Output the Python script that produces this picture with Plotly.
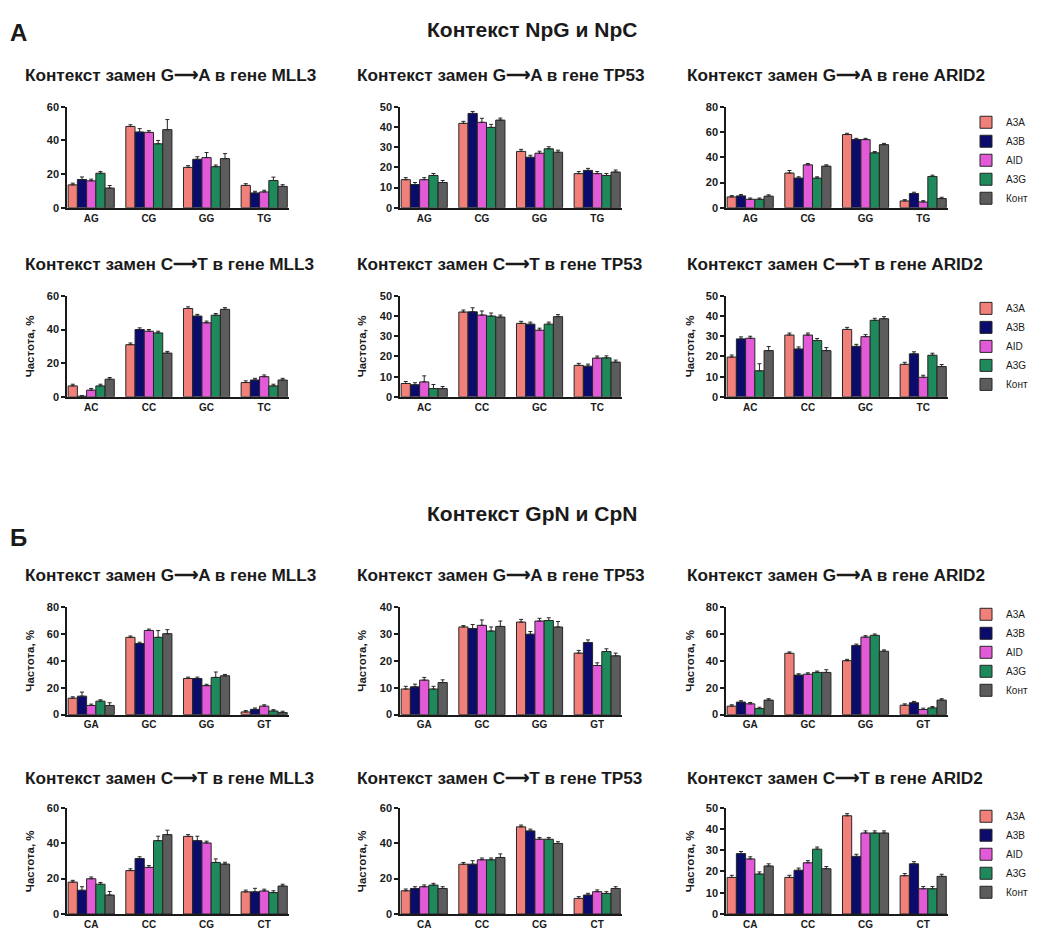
import plotly.graph_objects as go

PAGE_W, PAGE_H = 1043, 938
BODY = 8  # default page margin around the plot div
W, H = PAGE_W - 2 * BODY, PAGE_H - 2 * BODY
# empirical vertical calibration (rendered = V_SCALE * set + V_OFF)
V_SCALE, V_OFF = 0.986, 5.4

SERIES = ["A3A", "A3B", "AID", "A3G", "Конт"]
COLORS = ["#F2807A", "#0B0B6B", "#E35AD8", "#1E8A5C", "#5C5C5C"]

CATS_NPG = ["AG", "CG", "GG", "TG"]
CATS_NPC = ["AC", "CC", "GC", "TC"]
CATS_GPN = ["GA", "GC", "GG", "GT"]
CATS_CPN = ["CA", "CC", "CG", "CT"]

# one list per series (A3A, A3B, AID, A3G, Конт), values across the categories
MLL3_GA_NPG = [[13.6, 48.3, 24.0, 13.3], [16.8, 45.0, 28.8, 8.8], [16.0, 44.8, 29.8, 9.4],
               [20.5, 38.0, 24.4, 16.2], [11.7, 46.4, 29.2, 12.7]]
MLL3_GA_NPG_ERR = [[1, 1, 1, 1], [1.5, 2, 1.5, 1], [1, 1, 3, 1], [1, 2, 1, 2], [1.5, 6, 3, 1]]

TP53_GA_NPG = [[13.9, 41.8, 27.9, 16.9], [11.5, 46.7, 25.0, 18.5], [13.9, 42.3, 27.0, 16.9],
               [16.0, 39.8, 29.2, 16.0], [12.5, 43.4, 27.5, 17.7]]
TP53_GA_NPG_ERR = [[1, 1, 1, 1], [1, 1, 1, 1], [1, 2, 1, 1], [1, 1.5, 1, 1], [1, 1, 1, 1]]

ARID2_GA_NPG = [[8.6, 27.5, 58.0, 5.4], [9.4, 23.5, 54.0, 11.3], [6.7, 34.0, 54.0, 4.6],
                [6.7, 23.5, 43.5, 24.8], [9.2, 33.0, 50.0, 7.3]]
ARID2_GA_NPG_ERR = [[1, 2, 1, 1], [1, 1, 1, 1], [1, 1, 1, 1], [1, 1, 1, 1], [1, 1, 1, 1]]

MLL3_CT_NPC = [[6.5, 31.0, 52.5, 8.5], [0.4, 40.0, 48.0, 10.0], [4.0, 39.0, 44.0, 12.0],
               [6.5, 38.0, 48.5, 6.5], [10.5, 26.0, 52.0, 10.0]]
MLL3_CT_NPC_ERR = [[1, 1, 1, 1], [0.3, 1, 1, 1], [1, 1, 1, 1], [1, 1, 1, 1], [1, 1, 1, 1]]

TP53_CT_NPC = [[6.6, 42.0, 36.4, 15.6], [6.0, 42.1, 36.0, 15.2], [7.4, 40.5, 33.0, 19.2],
               [4.1, 40.0, 36.0, 19.3], [4.1, 39.5, 39.7, 17.2]]
TP53_CT_NPC_ERR = [[1, 1, 1, 1], [1, 2, 1, 1], [3, 2, 1, 1], [2, 1.5, 1, 1], [1, 1, 1, 1]]

ARID2_CT_NPC = [[19.7, 30.6, 33.4, 16.1], [28.7, 23.7, 25.0, 21.3], [29.0, 30.6, 29.8, 9.7],
                [12.9, 27.9, 37.9, 20.6], [22.9, 22.9, 38.7, 15.0]]
ARID2_CT_NPC_ERR = [[1, 1, 1, 1], [1, 1, 1, 1], [1, 1, 1, 1], [3.5, 1, 1, 1], [2, 1.5, 1, 1]]

MLL3_GA_GPN = [[12.2, 57.3, 26.8, 2.0], [13.7, 52.7, 26.8, 3.9], [6.8, 62.4, 21.5, 6.3],
               [10.0, 57.3, 27.6, 2.7], [6.8, 60.0, 28.8, 1.5]]
MLL3_GA_GPN_ERR = [[1, 1, 1, 1], [3, 1, 1, 1], [1, 1, 1, 1], [1, 5, 4, 1], [2, 3, 1, 1]]

TP53_GA_GPN = [[9.5, 32.5, 34.3, 22.8], [10.3, 31.9, 29.8, 26.7], [12.8, 33.1, 34.7, 18.2],
               [9.5, 31.0, 34.9, 23.4], [11.9, 32.7, 32.5, 21.8]]
TP53_GA_GPN_ERR = [[1, 0.5, 1, 1], [1, 1.5, 1, 1], [1, 2, 1, 1], [1, 1.5, 1, 1], [1, 2, 2, 1]]

ARID2_GA_GPN = [[6.3, 45.5, 40.0, 7.0], [9.3, 29.3, 51.3, 8.8], [8.0, 30.0, 57.5, 3.8],
                [4.5, 31.3, 58.8, 5.0], [10.8, 31.3, 47.0, 10.8]]
ARID2_GA_GPN_ERR = [[1, 1, 1, 1], [1, 1, 1, 1], [1, 1, 1, 1], [1, 1, 1, 1], [1, 2, 1, 1]]

MLL3_CT_CPN = [[18.0, 24.5, 43.8, 12.5], [13.4, 31.3, 41.4, 12.5], [19.9, 26.3, 40.1, 13.0],
               [16.8, 41.4, 29.1, 12.1], [10.7, 44.8, 28.2, 15.8]]
MLL3_CT_CPN_ERR = [[1, 1, 1, 1], [2, 1, 2.5, 2], [1, 1, 1, 1], [1, 2.5, 2, 1], [2, 2.5, 1, 1]]

TP53_CT_CPN = [[13.1, 28.1, 49.2, 8.8], [14.4, 28.1, 46.9, 10.7], [15.4, 30.6, 42.2, 12.6],
               [16.3, 30.6, 42.2, 11.6], [14.4, 31.9, 39.8, 14.4]]
TP53_CT_CPN_ERR = [[1, 1, 1, 1], [1, 2, 1, 1], [1, 1, 1, 1], [1, 1, 1, 1], [1, 2, 1, 1]]

ARID2_CT_CPN = [[17.2, 17.2, 46.2, 18.0], [28.4, 20.6, 27.1, 23.6], [25.9, 24.1, 38.1, 11.9],
                [18.8, 30.5, 38.1, 11.9], [22.6, 21.3, 38.1, 17.7]]
ARID2_CT_CPN_ERR = [[1, 1, 1, 1], [1, 1, 1, 1], [1, 1, 1, 1], [1, 1, 1, 1], [1, 1, 1, 1]]

TITLE_GA = "Контекст замен G⟶A в гене "
TITLE_CT = "Контекст замен C⟶T в гене "

# panels: (row, col, title, categories, values, errors, y max, y step)
PANELS = [
    (0, 0, TITLE_GA + "MLL3", CATS_NPG, MLL3_GA_NPG, MLL3_GA_NPG_ERR, 60, 20),
    (0, 1, TITLE_GA + "TP53", CATS_NPG, TP53_GA_NPG, TP53_GA_NPG_ERR, 50, 10),
    (0, 2, TITLE_GA + "ARID2", CATS_NPG, ARID2_GA_NPG, ARID2_GA_NPG_ERR, 80, 20),
    (1, 0, TITLE_CT + "MLL3", CATS_NPC, MLL3_CT_NPC, MLL3_CT_NPC_ERR, 60, 20),
    (1, 1, TITLE_CT + "TP53", CATS_NPC, TP53_CT_NPC, TP53_CT_NPC_ERR, 50, 10),
    (1, 2, TITLE_CT + "ARID2", CATS_NPC, ARID2_CT_NPC, ARID2_CT_NPC_ERR, 50, 10),
    (2, 0, TITLE_GA + "MLL3", CATS_GPN, MLL3_GA_GPN, MLL3_GA_GPN_ERR, 80, 20),
    (2, 1, TITLE_GA + "TP53", CATS_GPN, TP53_GA_GPN, TP53_GA_GPN_ERR, 40, 10),
    (2, 2, TITLE_GA + "ARID2", CATS_GPN, ARID2_GA_GPN, ARID2_GA_GPN_ERR, 80, 20),
    (3, 0, TITLE_CT + "MLL3", CATS_CPN, MLL3_CT_CPN, MLL3_CT_CPN_ERR, 60, 20),
    (3, 1, TITLE_CT + "TP53", CATS_CPN, TP53_CT_CPN, TP53_CT_CPN_ERR, 60, 20),
    (3, 2, TITLE_CT + "ARID2", CATS_CPN, ARID2_CT_CPN, ARID2_CT_CPN_ERR, 50, 10),
]

# layout geometry in target page pixels
COL_X = [(67, 289), (400, 622), (726, 948)]
ROW_Y = [(107, 209), (298, 400), (612, 721), (815, 923)]
TITLE_Y = [75, 266, 580, 785]
TITLE_X = [23, 355, 685]
YLAB_X = [30, 362, 690]
SHOW_YLAB = [False, True, True, True]
LEGEND_TOP = [108, 296, 605, 809]
LEGEND_X = 966

FONT = "Liberation Sans, Arial, sans-serif"
INK = "#1a1a1a"


def clamp(v):
    return min(1.0, max(0.0, v))


def px_x(p):
    return clamp((p - BODY) / W)


def px_y(p):
    p = (p - V_OFF) / V_SCALE
    return clamp(1 - (p - BODY) / H)


fig = go.Figure()
layout = {}
annotations = []

for i, (r, c, title, cats, vals, errs, ymax, ystep) in enumerate(PANELS):
    n = i + 1
    xa = "x" if n == 1 else f"x{n}"
    ya = "y" if n == 1 else f"y{n}"
    legend_name = "legend" if r == 0 else f"legend{r + 1}"
    for s, name in enumerate(SERIES):
        fig.add_trace(go.Bar(
            x=cats, y=vals[s], name=name,
            xaxis=xa, yaxis=ya,
            marker=dict(color=COLORS[s], line=dict(color="#262626", width=1)),
            error_y=dict(type="data", symmetric=False, array=errs[s],
                         arrayminus=[0] * len(errs[s]), color="#262626",
                         thickness=1, width=2),
            showlegend=(c == 2), legend=legend_name,
            offsetgroup=str(s),
        ))
    x0, x1 = COL_X[c]
    y0, y1 = ROW_Y[r]
    layout["xaxis" if n == 1 else f"xaxis{n}"] = dict(
        domain=[px_x(x0), px_x(x1)], anchor=ya,
        range=[-0.42, 3.43], showline=True, linecolor=INK, linewidth=1.5,
        ticks="", showgrid=False, zeroline=False,
        tickfont=dict(family=FONT, size=10, color=INK, weight="bold"),
        fixedrange=True,
    )
    layout["yaxis" if n == 1 else f"yaxis{n}"] = dict(
        domain=[px_y(y1), px_y(y0)], anchor=xa,
        range=[0, ymax], tick0=0, dtick=ystep,
        showline=True, linecolor=INK, linewidth=1.5,
        ticks="outside", ticklen=4, tickwidth=1.5, tickcolor=INK,
        showgrid=False, zeroline=False,
        tickfont=dict(family=FONT, size=11, color=INK, weight="bold"),
        fixedrange=True,
    )
    annotations.append(dict(
        text=f"<b>{title}</b>", xref="paper", yref="paper",
        x=px_x(TITLE_X[c]), y=px_y(TITLE_Y[r]), xanchor="left", yanchor="middle",
        showarrow=False, font=dict(family=FONT, size=17.2, color=INK),
    ))
    if SHOW_YLAB[r]:
        annotations.append(dict(
            text="<b>Частота, %</b>", xref="paper", yref="paper",
            x=px_x(YLAB_X[c]), y=px_y((y0 + y1) / 2), xanchor="center", yanchor="middle",
            textangle=-90, showarrow=False, font=dict(family=FONT, size=11.5, color=INK),
        ))

for r in range(4):
    key = "legend" if r == 0 else f"legend{r + 1}"
    layout[key] = dict(
        x=px_x(LEGEND_X), y=px_y(LEGEND_TOP[r]), xanchor="left", yanchor="top",
        font=dict(family=FONT, size=10, color=INK),
        bgcolor="rgba(0,0,0,0)", borderwidth=0, tracegroupgap=0,
        itemwidth=30, traceorder="normal",
    )

# section headers
annotations += [
    dict(text="<b>А</b>", xref="paper", yref="paper", x=px_x(8), y=px_y(32),
         xanchor="left", yanchor="middle", showarrow=False,
         font=dict(family=FONT, size=24, color=INK)),
    dict(text="<b>Контекст NpG и NpC</b>", xref="paper", yref="paper", x=px_x(532), y=px_y(29),
         xanchor="center", yanchor="middle", showarrow=False,
         font=dict(family=FONT, size=21, color=INK)),
    dict(text="<b>Б</b>", xref="paper", yref="paper", x=px_x(8), y=px_y(542),
         xanchor="left", yanchor="middle", showarrow=False,
         font=dict(family=FONT, size=24, color=INK)),
    dict(text="<b>Контекст GpN и CpN</b>", xref="paper", yref="paper", x=px_x(532), y=px_y(518),
         xanchor="center", yanchor="middle", showarrow=False,
         font=dict(family=FONT, size=21, color=INK)),
]

fig.update_layout(
    width=W, height=H,
    margin=dict(l=0, r=0, t=0, b=0),
    paper_bgcolor="white", plot_bgcolor="white",
    barmode="group", bargap=0.2, bargroupgap=0,
    annotations=annotations,
    **layout,
)

fig.write_html("out.html")
